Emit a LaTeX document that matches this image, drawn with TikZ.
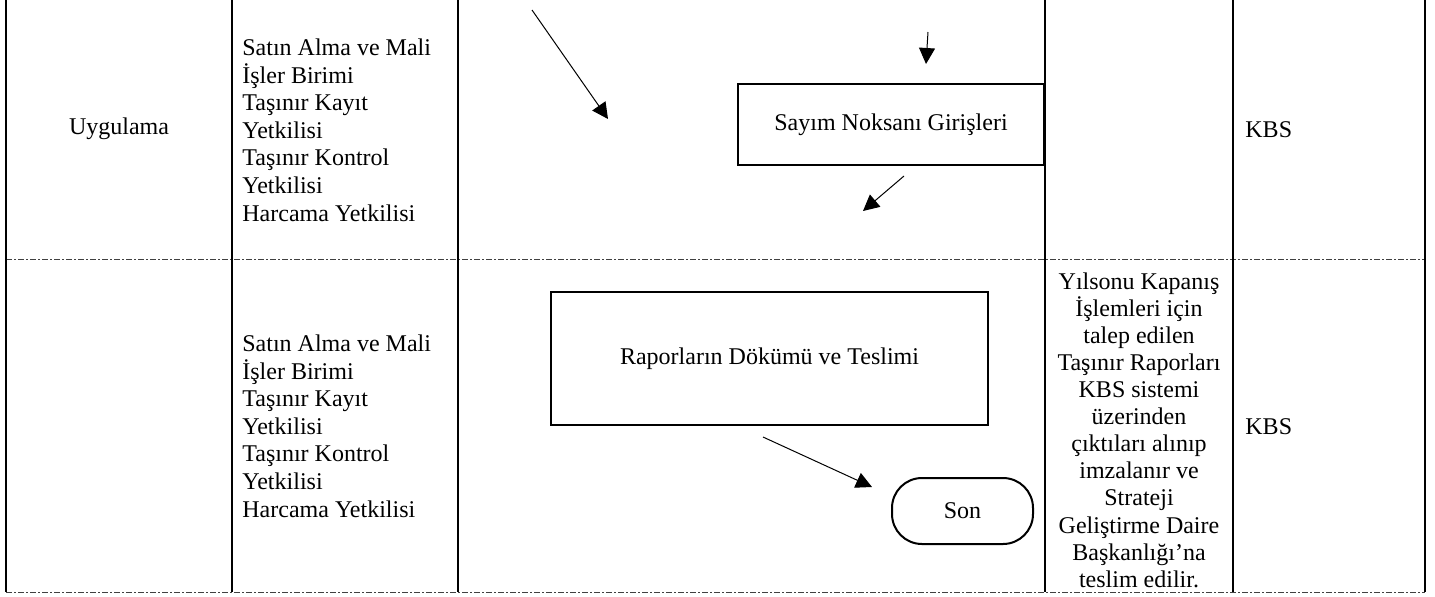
\documentclass[tikz,border=0pt]{standalone}
\usepackage{fontspec}
\setmainfont{Liberation Serif}
\usetikzlibrary{arrows.meta}
\begin{document}
\begin{tikzpicture}[x=0.5pt,y=-0.5pt,
  txt/.style={font=\fontsize{12}{13.8}\selectfont, inner sep=0pt},
  grid/.style={line width=1.1pt, black},
  sep/.style={line width=0.5pt, black!75, dash pattern=on 3pt off 1pt on 1pt off 1pt},
  box/.style={draw, line width=1pt, txt, align=center},
  conn/.style={line width=0.5pt, -{Triangle[length=8pt,width=8pt]}}]
\useasboundingbox (0,0) rectangle (1435,596);
% table rules
\draw[sep] (6,259) -- (1425,259);
\draw[sep] (6,592) -- (1425,592);
\foreach \x in {6,232,458,1045,1233,1425}
  \draw[grid] (\x,0) -- (\x,592);
% top row
\node[txt] (uyg) at (119,129) {Uygulama};
\node[txt, align=left, anchor=west] (rol1) at (242,130) {Satın Alma ve Mali\\İşler Birimi\\Taşınır Kayıt\\Yetkilisi\\Taşınır Kontrol\\Yetkilisi\\Harcama Yetkilisi};
\node[txt, anchor=west] (kbs1) at (1245,130) {KBS};
\node[box, minimum width=153pt, minimum height=40.5pt] (sayim) at (891,124.5) {Sayım Noksanı Girişleri};
% bottom row
\node[txt, align=left, anchor=west] (rol2) at (242,426) {Satın Alma ve Mali\\İşler Birimi\\Taşınır Kayıt\\Yetkilisi\\Taşınır Kontrol\\Yetkilisi\\Harcama Yetkilisi};
\node[txt, anchor=west] (kbs2) at (1245,427) {KBS};
\node[txt, font=\fontsize{12}{13.55}\selectfont, align=center] (acik) at (1139,430) {Yılsonu Kapanış\\İşlemleri için\\talep edilen\\Taşınır Raporları\\KBS sistemi\\üzerinden\\çıktıları alınıp\\imzalanır ve\\Strateji\\Geliştirme Daire\\Başkanlığı’na\\teslim edilir.};
\node[box, minimum width=218.5pt, minimum height=66.5pt] (rapor) at (769.5,358.5) {Raporların Dökümü ve Teslimi};
\node[box, rounded corners=15pt, minimum width=70.5pt, minimum height=33pt] (son) at (962.5,511) {Son};
% arrows
\coordinate (a1s) at (532,10);  \coordinate (a1e) at (608,119);
\coordinate (a2s) at (928,32);  \coordinate (a2e) at (926,64);
\coordinate (a3s) at (904,176); \coordinate (a3e) at (863,211);
\coordinate (a4s) at (763,437); \coordinate (a4e) at (872,487);
\draw[conn] (a1s) -- (a1e);
\draw[conn] (a2s) -- (a2e);
\draw[conn] (a3s) -- (a3e);
\draw[conn] (a4s) -- (a4e);
\end{tikzpicture}
\end{document}
